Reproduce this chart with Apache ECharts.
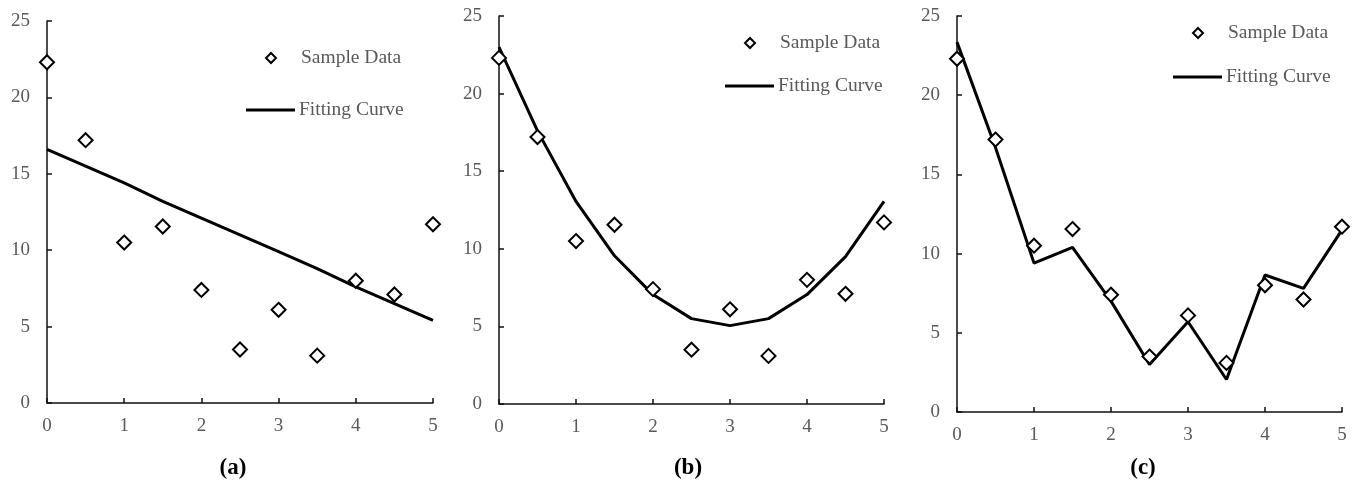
<!DOCTYPE html>
<html>
<head>
<meta charset="utf-8">
<script src="https://cdn.jsdelivr.net/npm/echarts@6/dist/echarts.min.js"></script>
<style>
  html, body { margin: 0; padding: 0; background: #fff; }
  #chart { width: 1357px; height: 486px; }
</style>
</head>
<body>
<div id="chart"></div>
<script>
// x positions shared by all three panels
const xValues = [0, 0.5, 1, 1.5, 2, 2.5, 3, 3.5, 4, 4.5, 5]
// measured points (same in every panel)
const sampleData = [22.3, 17.2, 10.5, 11.55, 7.4, 3.5, 6.1, 3.1, 8.0, 7.1, 11.7]
// fitted curves
const fitA = [16.6, 15.5, 14.4, 13.2, 12.1, 11.0, 9.9, 8.8, 7.6, 6.5, 5.4]
const fitB = [23.0, 17.6, 13.05, 9.55, 7.05, 5.5, 5.05, 5.5, 7.05, 9.5, 13.05]
const fitC = [23.35, 16.7, 9.4, 10.4, 7.0, 3.0, 5.7, 2.05, 8.65, 7.8, 11.5]
const xTicks = [0, 1, 2, 3, 4, 5]
const yTicks = [0, 5, 10, 15, 20, 25]
const panelNames = ['a', 'b', 'c']

const fits = [fitA, fitB, fitC]
const font = '"Liberation Serif", "Times New Roman", serif'

// layout of the three panels (pixels)
const grids = [
  { left: 47, right: 924, top: 21, bottom: 83 },
  { left: 499, right: 473, top: 16, bottom: 82 },
  { left: 957, right: 15, top: 16, bottom: 74 }
]
// legend anchors: d = diamond item, l = line item
const legendPos = [
  { dx: 260, dy: 43, lx: 241, ly: 95 },
  { dx: 739, dy: 28, lx: 720, ly: 71 },
  { dx: 1187, dy: 18, lx: 1168, ly: 62 }
]
const captionX = [228, 683, 1138]

const chart = echarts.init(document.getElementById('chart'))

const axisLine = { lineStyle: { color: '#111', width: 1.5 } }
const axisTick = { inside: true, length: 5, lineStyle: { color: '#111', width: 1.5 } }
const axisLabel = { fontFamily: font, fontSize: 19, color: '#595959' }
const legendText = { fontFamily: font, fontSize: 19.5, color: '#595959' }

const option = {
  animation: false,
  backgroundColor: '#fff',
  grid: grids.map(g => ({ ...g, containLabel: false })),
  xAxis: grids.map((g, i) => ({
    type: 'value',
    gridIndex: i,
    min: xTicks[0],
    max: xTicks[xTicks.length - 1],
    interval: 1,
    axisLine,
    axisTick,
    axisLabel: { ...axisLabel, margin: 14 },
    splitLine: { show: false }
  })),
  yAxis: grids.map((g, i) => ({
    type: 'value',
    gridIndex: i,
    min: yTicks[0],
    max: yTicks[yTicks.length - 1],
    interval: 5,
    axisLine: { show: true, ...axisLine },
    axisTick: { show: true, ...axisTick },
    axisLabel: { ...axisLabel, margin: 17 },
    splitLine: { show: false }
  })),
  legend: [],
  title: [],
  series: []
}

panelNames.forEach((p, i) => {
  const pos = legendPos[i]
  option.legend.push({
    left: pos.dx,
    top: pos.dy,
    data: ['Sample Data'],
    icon: 'diamond',
    itemWidth: 10,
    itemHeight: 10,
    itemStyle: { color: '#fff', borderColor: '#000', borderWidth: 2 },
    textStyle: { ...legendText, padding: [0, 0, 0, 20] },
    selectedMode: false
  })
  option.legend.push({
    left: pos.lx,
    top: pos.ly,
    data: ['Fitting Curve'],
    icon: 'rect',
    itemWidth: 49,
    itemHeight: 3,
    itemStyle: { color: '#000', borderWidth: 0 },
    textStyle: { ...legendText, padding: [0, 0, 0, -1] },
    selectedMode: false
  })
  option.title.push({
    text: '{p|(}{b|' + p + '}{p|)}',
    left: captionX[i],
    top: 452,
    textAlign: 'center',
    textStyle: {
      rich: {
        p: { fontFamily: font, fontSize: 23, color: '#000' },
        b: { fontFamily: font, fontSize: 23, fontWeight: 'bold', color: '#000' }
      }
    }
  })
  option.series.push({
    name: 'Fitting Curve',
    type: 'line',
    xAxisIndex: i,
    yAxisIndex: i,
    showSymbol: false,
    symbol: 'none',
    lineStyle: { color: '#000', width: 3 },
    itemStyle: { color: '#000' },
    z: 2,
    data: xValues.map((x, k) => [x, fits[i][k]])
  })
  option.series.push({
    name: 'Sample Data',
    type: 'scatter',
    xAxisIndex: i,
    yAxisIndex: i,
    symbol: 'diamond',
    symbolSize: 14,
    itemStyle: { color: '#fff', borderColor: '#000', borderWidth: 2, opacity: 1 },
    z: 3,
    data: xValues.map((x, k) => [x, sampleData[k]])
  })
})

chart.setOption(option)
</script>
</body>
</html>
